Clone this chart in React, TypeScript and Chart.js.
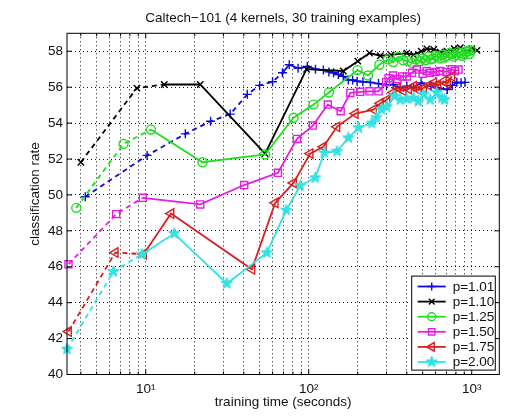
import React, { useEffect, useRef } from "react";
import { Chart, registerables } from "chart.js";
import { drawPoint } from "chart.js/helpers";

Chart.register(...registerables);

const FONT = '"Liberation Sans", Arial, Helvetica, sans-serif';
const TITLE = "Caltech−101 (4 kernels, 30 training examples)";
const X_TITLE = "training time (seconds)";
const Y_TITLE = "classification rate";

const xGridTicks = [4, 5, 6, 7, 8, 9, 10, 20, 30, 40, 50, 60, 70, 80, 90, 100, 200, 300, 400, 500, 600, 700, 800, 900, 1000];
const xTickLabels: Record<number, string> = { 10: "10¹", 100: "10²", 1000: "10³" };
const yTicks = [40, 42, 44, 46, 48, 50, 52, 54, 56, 58];

const seriesLabels = ["p=1.01", "p=1.10", "p=1.25", "p=1.50", "p=1.75", "p=2.00"];

// p=1.01
const timeP101 = [4.26, 10.2, 17.5, 25, 33, 42, 50, 60, 69, 76, 86, 98, 110, 123, 133, 142, 152, 163, 175, 186, 198, 215, 239, 268, 300, 330, 364, 400, 440, 489, 560, 620, 708, 760, 810, 860, 910];
const rateP101 = [49.9, 52.2, 53.4, 54.1, 54.5, 55.6, 56.1, 56.3, 56.8, 57.25, 57.05, 57.15, 57.0, 56.95, 56.85, 56.8, 56.7, 56.6, 56.4, 56.4, 56.33, 56.3, 56.27, 56.2, 56.1, 56.15, 55.96, 56.05, 56.0, 56.24, 56.05, 55.95, 55.87, 56.1, 56.27, 56.25, 56.27];
// p=1.10
const timeP110 = [4.0, 8.83, 13.0, 21.6, 54, 97, 163, 200, 236, 275, 320, 400, 440, 490, 531, 585, 640, 705, 780, 851, 936, 1000, 1077];
const rateP110 = [51.82, 55.95, 56.15, 56.15, 52.3, 57.0, 56.9, 57.45, 57.9, 57.75, 57.8, 57.9, 57.8, 58.0, 58.13, 58.1, 57.95, 58.0, 58.15, 58.2, 58.0, 58.15, 58.05];
// p=1.25
const timeP125 = [3.75, 7.31, 10.76, 22.3, 54, 80.7, 107, 133, 199, 231, 271, 306, 330, 354, 380, 406, 430, 457, 480, 500, 520, 540, 560, 580, 600, 620, 640, 660, 680, 705, 730, 750, 775, 800, 825, 850, 875, 900, 925, 950, 970, 990];
const rateP125 = [49.28, 52.84, 53.64, 51.82, 52.25, 54.3, 55.03, 55.7, 56.95, 56.65, 57.25, 57.55, 57.4, 57.7, 57.5, 57.45, 57.35, 57.55, 57.45, 57.6, 57.5, 57.7, 57.55, 57.6, 57.75, 57.7, 57.6, 57.8, 57.65, 57.75, 57.9, 57.85, 57.7, 57.8, 57.95, 57.9, 57.75, 57.85, 58.0, 58.0, 57.85, 58.05];
// p=1.50
const timeP150 = [3.36, 6.59, 9.6, 21.6, 40.2, 64.7, 84.7, 106, 131, 157, 180, 207, 236, 268, 298, 309, 329, 350, 375, 400, 430, 460, 500, 530, 556, 600, 640, 700, 753, 790, 830];
const rateP150 = [46.14, 48.93, 49.84, 49.47, 50.55, 51.23, 53.12, 53.86, 55.03, 54.66, 55.68, 55.74, 55.77, 55.77, 56.28, 56.5, 56.65, 56.45, 56.6, 56.6, 56.8, 56.98, 56.75, 56.9, 56.8, 56.85, 56.9, 56.85, 57.0, 56.9, 56.98];
// p=1.75
const timeP175 = [3.36, 6.5, 9.7, 14.3, 44.8, 62.3, 80.7, 102, 123, 149, 193, 250, 275, 302, 330, 352, 380, 410, 440, 470, 507, 545, 585, 620, 670, 710, 755];
const rateP175 = [42.39, 46.79, 46.7, 48.96, 45.86, 49.56, 50.67, 52.3, 52.68, 53.79, 54.53, 54.75, 55.1, 55.3, 55.7, 55.96, 55.8, 55.9, 56.05, 55.85, 55.96, 56.1, 56.24, 56.1, 56.33, 56.2, 56.6];
// p=2.00
const timeP200 = [3.29, 6.34, 9.5, 14.96, 31.5, 55.4, 72.8, 88.7, 109.6, 124.5, 149, 175, 202, 244, 260, 279, 301, 336, 364, 400, 440, 470, 507, 556, 610, 655, 681];
const rateP200 = [41.41, 45.73, 46.7, 47.85, 45.07, 46.78, 49.15, 50.52, 50.95, 52.34, 52.43, 53.18, 53.74, 54.0, 54.3, 54.75, 54.9, 55.5, 55.3, 55.35, 55.4, 55.2, 55.6, 55.3, 55.7, 55.4, 55.3];

const times = [timeP101, timeP110, timeP125, timeP150, timeP175, timeP200];
const rates = [rateP101, rateP110, rateP125, rateP150, rateP175, rateP200];
// last index of the dashed (early) part of each curve
const dashedUpTo = [8, 2, 2, 2, 2, 2];

const toPoints = (t: number[], r: number[]) => t.map((x, i) => ({ x, y: r[i] }));

function makeStar(color: string) {
  const c = document.createElement("canvas");
  c.width = 13;
  c.height = 13;
  const g = c.getContext("2d")!;
  g.beginPath();
  for (let i = 0; i < 10; i++) {
    const r = i % 2 === 0 ? 6 : 2.5;
    const a = -Math.PI / 2 + (i * Math.PI) / 5;
    g.lineTo(6.5 + r * Math.cos(a), 6.5 + r * Math.sin(a));
  }
  g.closePath();
  g.fillStyle = color;
  g.fill();
  g.strokeStyle = color;
  g.lineWidth = 1;
  g.stroke();
  return c;
}

const framePlugin = {
  id: "matlabFrame",
  afterDatasetsDraw(chart: any) {
    const { ctx, chartArea: a, scales } = chart;
    ctx.save();
    ctx.setLineDash([]);
    ctx.strokeStyle = "#000";
    ctx.lineWidth = 1;
    ctx.strokeRect(a.left, a.top, a.right - a.left, a.bottom - a.top);
    ctx.beginPath();
    yTicks.forEach((v) => {
      const y = scales.y.getPixelForValue(v);
      ctx.moveTo(a.left, y);
      ctx.lineTo(a.left + 5, y);
      ctx.moveTo(a.right, y);
      ctx.lineTo(a.right - 5, y);
    });
    xGridTicks.forEach((v) => {
      const x = scales.x.getPixelForValue(v);
      const len = xTickLabels[v] ? 5 : 3;
      ctx.moveTo(x, a.bottom);
      ctx.lineTo(x, a.bottom - len);
      ctx.moveTo(x, a.top);
      ctx.lineTo(x, a.top + len);
    });
    ctx.stroke();
    ctx.restore();
  },
  afterDraw(chart: any) {
    const { ctx, chartArea: a } = chart;
    ctx.save();
    ctx.font = `13.5px ${FONT}`;
    ctx.fillStyle = "#111";
    ctx.textAlign = "center";
    ctx.textBaseline = "middle";
    ctx.fillText(TITLE, (a.left + a.right) / 2, 18.5);

    ctx.save();
    ctx.translate(35.5, 194);
    ctx.rotate(-Math.PI / 2);
    ctx.fillText(Y_TITLE, 0, 0);
    ctx.restore();

    // legend box in the lower right corner
    const w = 83.6;
    const h = 94;
    const left = a.right - 4 - w;
    const top = a.bottom - 4.4 - h;
    ctx.fillStyle = "#fff";
    ctx.fillRect(left, top, w, h);
    ctx.strokeStyle = "#000";
    ctx.lineWidth = 1;
    ctx.strokeRect(left, top, w, h);
    ctx.textAlign = "left";
    chart.data.datasets.forEach((ds: any, i: number) => {
      const y = top + 10.4 + i * 15.1;
      ctx.strokeStyle = ds.borderColor;
      ctx.lineWidth = 1.8;
      ctx.beginPath();
      ctx.moveTo(left + 6, y);
      ctx.lineTo(left + 34, y);
      ctx.stroke();
      ctx.fillStyle = "rgba(0,0,0,0)";
      ctx.lineWidth = ds.pointBorderWidth;
      drawPoint(ctx, { pointStyle: ds.pointStyle, rotation: ds.pointRotation, radius: ds.pointRadius - 0.5, borderWidth: ds.pointBorderWidth }, left + 20, y);
      ctx.fillStyle = "#111";
      ctx.fillText(ds.label, left + 41, y + 0.5);
    });
    ctx.restore();
  },
};

const App: React.FC = () => {
  const chartRef = useRef<HTMLCanvasElement>(null);

  useEffect(() => {
    if (!chartRef.current) return;
    const styles = [
      { color: "#0c0cdc", pointStyle: "cross", radius: 4.5, rotation: 0 },
      { color: "#000000", pointStyle: "crossRot", radius: 4.5, rotation: 0 },
      { color: "#22dd22", pointStyle: "circle", radius: 4.5, rotation: 0 },
      { color: "#e41ce4", pointStyle: "rect", radius: 5, rotation: 0 },
      { color: "#d8201e", pointStyle: "triangle", radius: 5.5, rotation: -90 },
      { color: "#33e2e2", pointStyle: makeStar("#33e2e2") as any, radius: 5, rotation: 0 },
    ];

    const chart = new Chart(chartRef.current, {
      type: "line",
      data: {
        datasets: styles.map((s, i) => ({
          label: seriesLabels[i],
          data: toPoints(times[i], rates[i]),
          borderColor: s.color,
          backgroundColor: s.color,
          borderWidth: 1.8,
          pointStyle: s.pointStyle,
          pointRadius: s.radius,
          pointRotation: s.rotation,
          pointBorderColor: s.color,
          pointBackgroundColor: "rgba(0,0,0,0)",
          pointBorderWidth: 1.4,
          fill: false,
          tension: 0,
          clip: false as any,
          order: -i,
          segment: {
            borderDash: (ctx: any) => (ctx.p1DataIndex <= dashedUpTo[i] ? [5, 4] : undefined),
          },
        })),
      },
      options: {
        animation: false,
        responsive: true,
        maintainAspectRatio: false,
        events: [],
        layout: { padding: { top: 33.3, right: 22.7, left: 0, bottom: 0 } },
        plugins: {
          legend: { display: false },
          title: { display: false },
          tooltip: { enabled: false },
        },
        scales: {
          x: {
            type: "logarithmic",
            min: 3.29,
            max: 1476,
            afterBuildTicks: (scale: any) => {
              scale.ticks = xGridTicks.map((value) => ({ value }));
            },
            afterFit: (scale: any) => {
              scale.height = 41.5;
            },
            ticks: {
              autoSkip: false,
              maxRotation: 0,
              padding: 7,
              color: "#111",
              font: { family: FONT, size: 13.5 },
              callback: (value: any) => xTickLabels[Number(value)] ?? "",
            },
            grid: { color: "#111", lineWidth: 1, drawTicks: false },
            border: { display: false, dash: [1, 3] },
            title: {
              display: true,
              text: X_TITLE,
              color: "#111",
              font: { family: FONT, size: 13.5 },
              padding: { top: 0, bottom: 6 },
            },
          },
          y: {
            type: "linear",
            min: 40,
            max: 59,
            afterBuildTicks: (scale: any) => {
              scale.ticks = yTicks.map((value) => ({ value }));
            },
            afterFit: (scale: any) => {
              scale.width = 67;
            },
            ticks: {
              padding: 4,
              color: "#111",
              font: { family: FONT, size: 13.5 },
            },
            grid: { color: "#111", lineWidth: 1, drawTicks: false },
            border: { display: false, dash: [1, 3] },
          },
        },
      },
      plugins: [framePlugin],
    });

    return () => {
      chart.destroy();
    };
  }, []);

  return (
    <div style={{ position: "fixed", left: 0, top: 0, width: 522, height: 416, background: "#fff" }}>
      <canvas ref={chartRef} />
    </div>
  );
};

export default App;
